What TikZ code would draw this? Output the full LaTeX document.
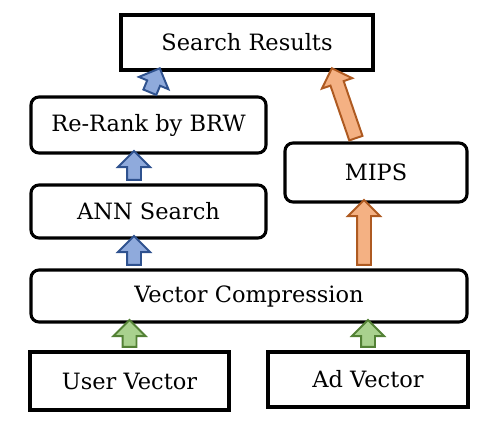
\documentclass[tikz,border=0pt]{standalone}
\usepackage{fontspec}
\setmainfont{DejaVu Serif}
\usepackage{xcolor}
\usetikzlibrary{calc,shapes.arrows}

\definecolor{arrblue}{HTML}{8FAADC}
\definecolor{arrblueline}{HTML}{2F528F}
\definecolor{arrorange}{HTML}{F4B183}
\definecolor{arrorangeline}{HTML}{AE5A21}
\definecolor{arrgreen}{HTML}{A9D18E}
\definecolor{arrgreenline}{HTML}{538135}

% block arrow from #2 to #3, style #1
\newcommand{\fatarrow}[3]{%
  \path let \p1=($#3-#2$), \n1={atan2(\y1,\x1)}, \n2={veclen(\x1,\y1)} in
    node[#1, rotate=\n1, minimum height=\n2] at ($#2!0.5!#3$) {};}

\begin{document}
\begin{tikzpicture}[font=\fontsize{16}{19}\selectfont,
  box/.style={draw, line width=2.2pt, inner sep=0pt},
  rbox/.style={box, rounded corners=0.2cm},
  fat/.style={single arrow, line width=1.4pt, inner xsep=0pt, inner ysep=0.15cm,
    single arrow head extend=0.225cm},
  blueup/.style={fat, draw=arrblueline, fill=arrblue},
  orangeup/.style={fat, draw=arrorangeline, fill=arrorange},
  greenup/.style={fat, draw=arrgreenline, fill=arrgreen}]
  \useasboundingbox (0,0) rectangle (12.5,-10.575);

  \node[box, minimum width=6.3cm, minimum height=1.375cm] (search) at (6.175,-1.0625) {Search Results};
  \node[rbox, minimum width=5.875cm, minimum height=1.4cm] (rerank) at (3.7125,-3.125) {Re-Rank by BRW};
  \node[rbox, minimum width=5.875cm, minimum height=1.325cm] (ann) at (3.7125,-5.2875) {ANN Search};
  \node[rbox, minimum width=4.55cm, minimum height=1.475cm] (mips) at (9.4,-4.3125) {MIPS};
  \node[rbox, minimum width=10.9cm, minimum height=1.3cm] (vc) at (6.225,-7.4) {Vector Compression};
  \node[box, minimum width=4.975cm, minimum height=1.45cm] (user) at (3.2375,-9.525) {User Vector};
  \node[box, minimum width=5cm, minimum height=1.375cm] (ad) at (9.2,-9.4875) {Ad Vector};

  \coordinate (bluex) at ([xshift=-3.625mm]ann.south);
  \coordinate (orangex) at ([xshift=-3mm]mips.south);

  % left path
  \fatarrow{greenup}{(user.north)}{(user.north |- vc.south)}
  \fatarrow{blueup}{(bluex |- vc.north)}{(bluex)}
  \fatarrow{blueup}{([xshift=-3.625mm]ann.north)}{([xshift=-3.625mm]rerank.south)}
  \fatarrow{blueup}{(rerank.north)}{([xshift=9.75mm]search.south west)}
  % right path
  \fatarrow{greenup}{(ad.north)}{(ad.north |- vc.south)}
  \fatarrow{orangeup}{(orangex |- vc.north)}{(orangex)}
  \fatarrow{orangeup}{([xshift=-4.75mm]mips.north)}{([xshift=21.5mm]search.south)}
\end{tikzpicture}
\end{document}
